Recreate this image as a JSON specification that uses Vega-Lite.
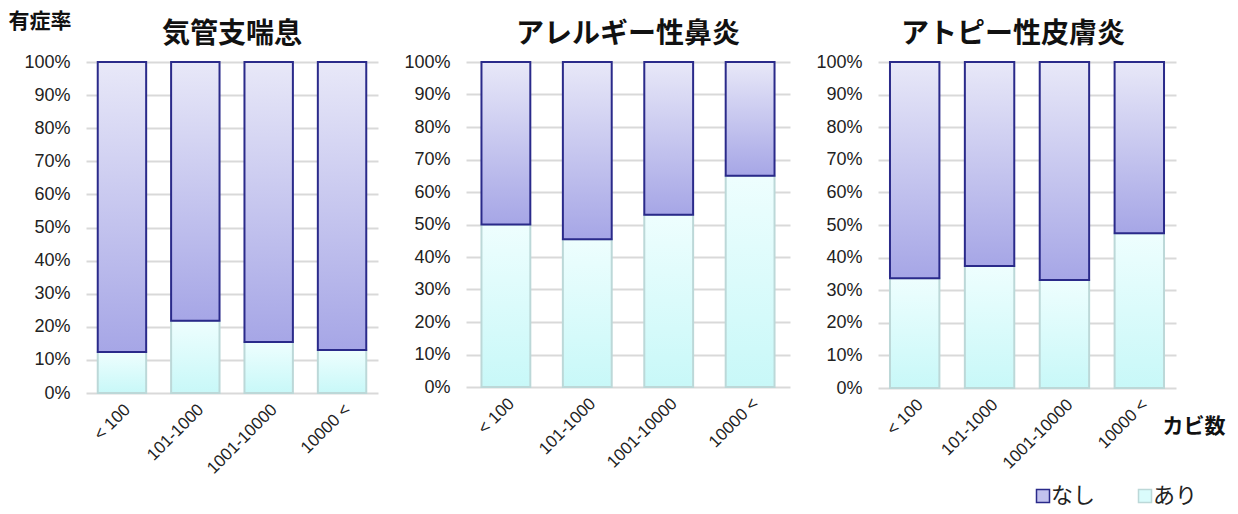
{
  "$schema": "https://vega.github.io/schema/vega-lite/v6.json",
  "padding": {"left": 8, "top": 10, "right": 5, "bottom": 5},
  "spacing": 25,
  "datasets": {
    "d": [
      {"disease": "気管支喘息", "group": "< 100", "ari": 0.124},
      {"disease": "気管支喘息", "group": "101-1000", "ari": 0.218},
      {"disease": "気管支喘息", "group": "1001-10000", "ari": 0.154},
      {"disease": "気管支喘息", "group": "10000 <", "ari": 0.13},
      {"disease": "アレルギー性鼻炎", "group": "< 100", "ari": 0.5},
      {"disease": "アレルギー性鼻炎", "group": "101-1000", "ari": 0.455},
      {"disease": "アレルギー性鼻炎", "group": "1001-10000", "ari": 0.53},
      {"disease": "アレルギー性鼻炎", "group": "10000 <", "ari": 0.65},
      {"disease": "アトピー性皮膚炎", "group": "< 100", "ari": 0.337},
      {"disease": "アトピー性皮膚炎", "group": "101-1000", "ari": 0.374},
      {"disease": "アトピー性皮膚炎", "group": "1001-10000", "ari": 0.331},
      {"disease": "アトピー性皮膚炎", "group": "10000 <", "ari": 0.475}
    ],
    "legend": [{"status": "なし"}, {"status": "あり"}]
  },
  "hconcat": [
    {
      "width": 292, "height": 331,
      "title": {"text": "気管支喘息", "offset": -39},
      "encoding": {
        "x": {"field": "group", "type": "nominal", "sort": ["< 100", "101-1000", "1001-10000", "10000 <"], "scale": {"paddingInner": 0.34, "paddingOuter": 0.16}, "axis": {"title": null}},
        "y": {"field": "ari", "type": "quantitative", "scale": {"domain": [0, 1]},
              "axis": {"format": ".0%", "values": [0, 0.1, 0.2, 0.3, 0.4, 0.5, 0.6, 0.7, 0.8, 0.9, 1], "title": "有症率", "titleAngle": 0, "titleAlign": "left", "titleBaseline": "middle", "titleX": -78, "titleY": -41, "titleFontSize": 21, "titleFontWeight": "bold", "titleFont": "Noto Sans CJK JP", "titleColor": "#111"}}
      },
      "transform": [{"filter": "datum.disease === '気管支喘息'"}],
      "data": {"name": "d"},
      "layer": [
        {
          "mark": {"type": "bar", "strokeWidth": 2, "stroke": "#bcd8d8", "fill": {"gradient": "linear", "x1": 0, "y1": 0, "x2": 0, "y2": 1, "stops": [{"offset": 0, "color": "#eefefe"}, {"offset": 1, "color": "#c8f8f8"}]}}
        },
        {
          "mark": {"type": "bar", "strokeWidth": 2, "stroke": "#2a2a8a", "fill": {"gradient": "linear", "x1": 0, "y1": 0, "x2": 0, "y2": 1, "stops": [{"offset": 0, "color": "#e8e8f8"}, {"offset": 1, "color": "#a6a6e6"}]}},
          "encoding": {"y2": {"datum": 1}}
        }
      ]
    },
    {
      "width": 324, "height": 325,
      "title": {"text": "アレルギー性鼻炎", "offset": 4},
      "encoding": {
        "x": {"field": "group", "type": "nominal", "sort": ["< 100", "101-1000", "1001-10000", "10000 <"], "scale": {"paddingInner": 0.4, "paddingOuter": 0.19}, "axis": {"title": null}},
        "y": {"field": "ari", "type": "quantitative", "scale": {"domain": [0, 1]},
              "axis": {"format": ".0%", "values": [0, 0.1, 0.2, 0.3, 0.4, 0.5, 0.6, 0.7, 0.8, 0.9, 1], "title": null}}
      },
      "transform": [{"filter": "datum.disease === 'アレルギー性鼻炎'"}],
      "data": {"name": "d"},
      "layer": [
        {
          "mark": {"type": "bar", "strokeWidth": 2, "stroke": "#bcd8d8", "fill": {"gradient": "linear", "x1": 0, "y1": 0, "x2": 0, "y2": 1, "stops": [{"offset": 0, "color": "#eefefe"}, {"offset": 1, "color": "#c8f8f8"}]}}
        },
        {
          "mark": {"type": "bar", "strokeWidth": 2, "stroke": "#2a2a8a", "fill": {"gradient": "linear", "x1": 0, "y1": 0, "x2": 0, "y2": 1, "stops": [{"offset": 0, "color": "#e8e8f8"}, {"offset": 1, "color": "#a6a6e6"}]}},
          "encoding": {"y2": {"datum": 1}}
        }
      ]
    },
    {
      "width": 298, "height": 326,
      "title": {"text": "アトピー性皮膚炎", "offset": 4, "dx": -14},
      "encoding": {
        "x": {"field": "group", "type": "nominal", "sort": ["< 100", "101-1000", "1001-10000", "10000 <"], "scale": {"paddingInner": 0.34, "paddingOuter": 0.16},
              "axis": {"title": "カビ数", "titleAngle": 0, "titleAlign": "left", "titleBaseline": "middle", "titleX": 284, "titleY": 38, "titleFontSize": 21, "titleFontWeight": "bold", "titleFont": "Noto Sans CJK JP", "titleColor": "#111"}},
        "y": {"field": "ari", "type": "quantitative", "scale": {"domain": [0, 1]},
              "axis": {"format": ".0%", "values": [0, 0.1, 0.2, 0.3, 0.4, 0.5, 0.6, 0.7, 0.8, 0.9, 1], "title": null}}
      },
      "layer": [
        {
          "data": {"name": "d"},
          "transform": [{"filter": "datum.disease === 'アトピー性皮膚炎'"}],
          "mark": {"type": "bar", "strokeWidth": 2, "stroke": "#bcd8d8", "fill": {"gradient": "linear", "x1": 0, "y1": 0, "x2": 0, "y2": 1, "stops": [{"offset": 0, "color": "#eefefe"}, {"offset": 1, "color": "#c8f8f8"}]}}
        },
        {
          "data": {"name": "d"},
          "transform": [{"filter": "datum.disease === 'アトピー性皮膚炎'"}],
          "mark": {"type": "bar", "strokeWidth": 2, "stroke": "#2a2a8a", "fill": {"gradient": "linear", "x1": 0, "y1": 0, "x2": 0, "y2": 1, "stops": [{"offset": 0, "color": "#e8e8f8"}, {"offset": 1, "color": "#a6a6e6"}]}},
          "encoding": {"y2": {"datum": 1}}
        },
        {
          "data": {"name": "legend"},
          "mark": {"type": "square", "opacity": 0},
          "encoding": {
            "x": null,
            "y": null,
            "fill": {"field": "status", "type": "nominal", "scale": {"domain": ["なし", "あり"], "range": ["#c2c2ee", "#dafcfc"]}, "title": null},
            "stroke": {"field": "status", "type": "nominal", "scale": {"domain": ["なし", "あり"], "range": ["#2a2a8a", "#bcd8d8"]}, "title": null}
          }
        }
      ]
    }
  ],
  "config": {
    "view": {"stroke": null},
    "title": {"fontSize": 28, "font": "Noto Sans CJK JP", "fontWeight": "bold", "color": "#111"},
    "axis": {"labelFont": "Liberation Sans", "labelColor": "#222", "domain": false, "ticks": false, "gridColor": "#d9d9d9", "gridWidth": 2},
    "axisY": {"labelFontSize": 18, "labelPadding": 16, "labelOverlap": false},
    "axisX": {"labelFontSize": 17, "labelAngle": -45, "labelPadding": 8, "grid": false},
    "legend": {"orient": "none", "direction": "horizontal", "legendX": 946, "legendY": 423, "padding": 0, "labelFont": "Noto Sans CJK JP", "labelFontSize": 22, "labelColor": "#222", "symbolType": "square", "symbolSize": 169, "symbolStrokeWidth": 1.5, "symbolOpacity": 1, "columnPadding": 38, "labelOffset": -3}
  }
}
